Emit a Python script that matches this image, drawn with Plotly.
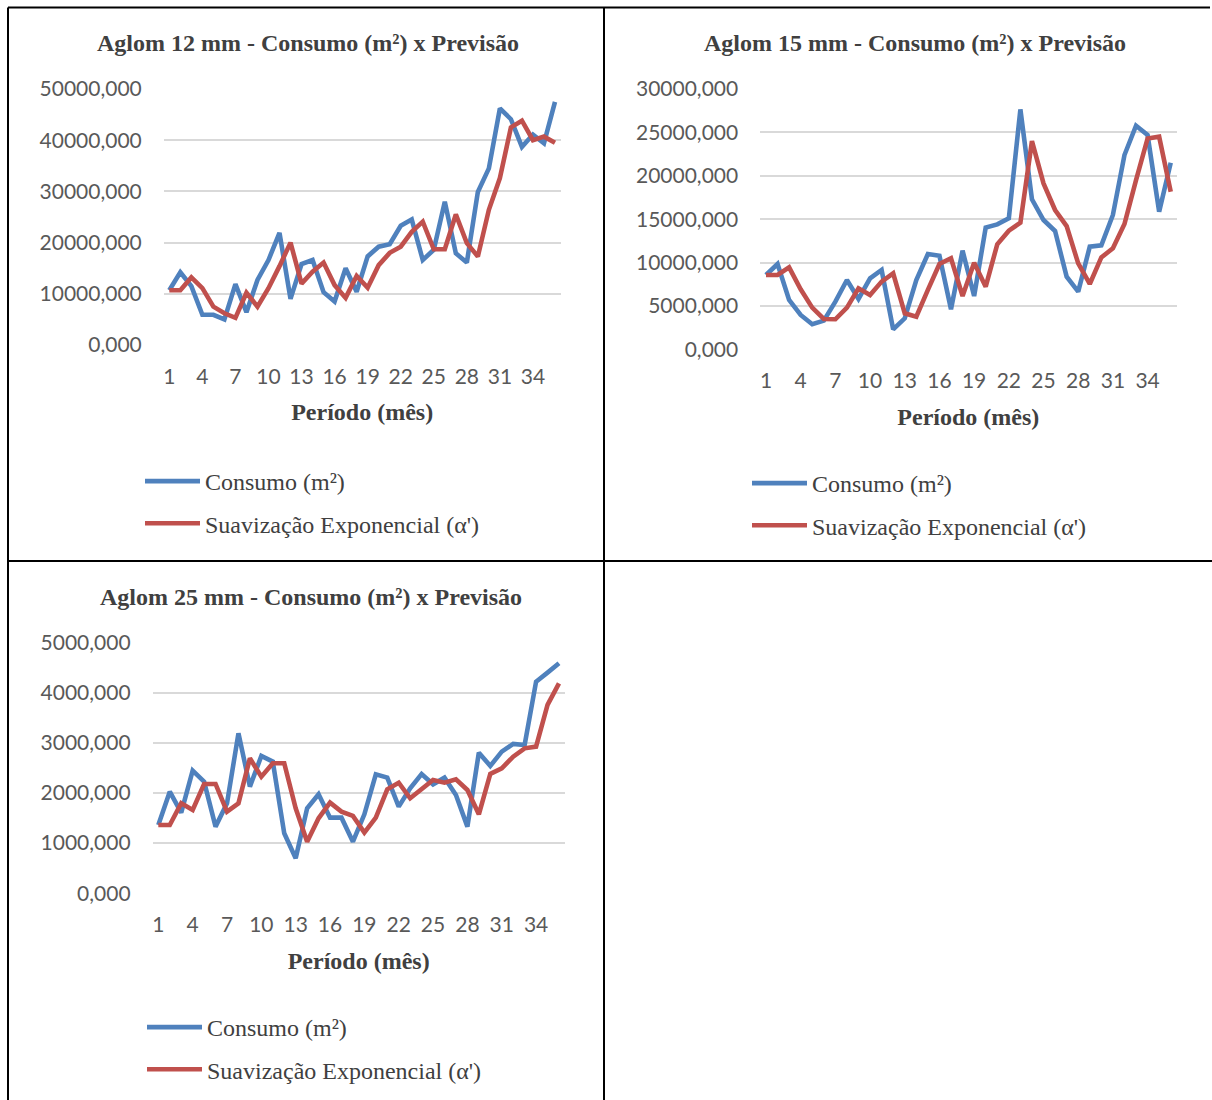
import plotly.graph_objects as go

# ---------------- data ----------------
periods = list(range(1, 37))

consumo_12 = [10700, 14200, 11500, 5900, 5900, 5000, 11900, 6400, 12700, 16600,
              21900, 9000, 15800, 16600, 10300, 8500, 15000, 10400, 17300, 19200,
              19700, 23300, 24500, 16600, 18600, 28000, 17900, 16100, 29900, 34500,
              46200, 44100, 38700, 41100, 39400, 47500]
previsao_12 = [10700, 10700, 13200, 11100, 7500, 6200, 5300, 10200, 7500, 11100,
               15400, 20000, 12000, 14300, 16100, 11700, 9200, 13500, 11200, 15600,
               18000, 19200, 22100, 24100, 18700, 18700, 25500, 19900, 17300, 26400,
               32600, 42500, 43800, 40000, 40700, 39500]

consumo_15 = [8560, 9830, 5680, 3960, 2880, 3300, 5490, 7990, 5800, 8180,
              9140, 2300, 3570, 7990, 10980, 10790, 4610, 11370, 6140, 14020,
              14400, 15090, 27650, 17280, 14900, 13630, 8370, 6640, 11830, 11980,
              15480, 22390, 25770, 24690, 15860, 21500]
previsao_15 = [8560, 8560, 9450, 6910, 4800, 3500, 3460, 4800, 7030, 6260,
               7800, 8760, 4150, 3760, 6840, 9830, 10490, 6140, 9980, 7220,
               12100, 13670, 14590, 24000, 19120, 16050, 14200, 9900, 7530, 10600,
               11640, 14440, 19500, 24300, 24500, 18160]

consumo_25 = [1361, 2025, 1607, 2444, 2224, 1328, 1793, 3187, 2125, 2736,
              2623, 1195, 697, 1693, 1972, 1507, 1507, 1029, 1574, 2370,
              2304, 1726, 2092, 2377, 2171, 2304, 1959, 1328, 2802, 2537,
              2822, 2975, 2955, 4216, 4396, 4582]
previsao_25 = [1361, 1361, 1793, 1660, 2178, 2178, 1627, 1793, 2689, 2324,
               2590, 2590, 1693, 1029, 1494, 1806, 1627, 1541, 1209, 1507,
               2072, 2204, 1892, 2072, 2258, 2204, 2271, 2058, 1574, 2377,
               2490, 2722, 2888, 2922, 3752, 4183]

chart_titles = ["Aglom 12 mm - Consumo (m²) x Previsão",
                "Aglom 15 mm - Consumo (m²) x Previsão",
                "Aglom 25 mm - Consumo (m²) x Previsão"]
series_names = ["Consumo (m²)", "Suavização Exponencial (α')"]
x_title = "Período (mês)"
y_max = [50000, 30000, 5000]
y_step = [10000, 5000, 1000]

# ---------------- layout helpers ----------------
W, H = 1212, 1100
BLUE = "#4F81BD"
RED = "#C0504D"


def px(x):
    return x / W


def py(y):
    return 1 - y / H


# plot areas in pixel coordinates: (left, right, top, bottom)
areas = [(163.8, 560.5, 89, 345), (760.2, 1176.5, 89, 349.3), (152.6, 564.7, 642.3, 893.3)]
title_pos = [(308, 43), (915, 43), (310.5, 597)]
legend_pos = [(140, 459), (747, 461), (142, 1005)]

data_sets = [(consumo_12, previsao_12), (consumo_15, previsao_15), (consumo_25, previsao_25)]

fig = go.Figure()
layout_axes = {}
annotations = []
for i, (cons, prev) in enumerate(data_sets):
    sfx = "" if i == 0 else str(i + 1)
    leg = "legend" if i == 0 else "legend" + str(i + 1)
    fig.add_trace(go.Scatter(x=periods, y=cons, mode="lines", name=series_names[0],
                             line=dict(color=BLUE, width=4.6), xaxis="x" + sfx, yaxis="y" + sfx,
                             legend=leg, legendgroup="c%d" % i))
    fig.add_trace(go.Scatter(x=periods, y=prev, mode="lines", name=series_names[1],
                             line=dict(color=RED, width=4.6), xaxis="x" + sfx, yaxis="y" + sfx,
                             legend=leg, legendgroup="p%d" % i))
    l, r, t, b = areas[i]
    layout_axes["xaxis" + sfx] = dict(
        domain=[px(l), px(r)], anchor="y" + sfx, range=[0.5, 36.5],
        tickmode="linear", tick0=1, dtick=3, showgrid=False, zeroline=False,
        showline=False, ticks="", ticklabelstandoff=17, automargin=False,
        tickfont=dict(family="Lato", size=21, color="#595959"),
        title=dict(text=x_title, standoff=16,
                   font=dict(family="Liberation Serif", size=24, color="#404040", weight="bold")),
        fixedrange=True)
    layout_axes["yaxis" + sfx] = dict(
        domain=[py(b), py(t)], anchor="x" + sfx, range=[0, y_max[i]],
        tickmode="linear", tick0=0, dtick=y_step[i], tickformat=".3f",
        showgrid=True, gridcolor="#D9D9D9", gridwidth=1.8, zeroline=False,
        showline=False, ticks="", ticklabelstandoff=21, automargin=False,
        tickfont=dict(family="Lato", size=21, color="#595959"), fixedrange=True)
    lx, ly = legend_pos[i]
    layout_axes[leg] = dict(
        x=px(lx), y=py(ly), xanchor="left", yanchor="top", orientation="v",
        traceorder="grouped", tracegroupgap=8, itemwidth=55, bgcolor="rgba(0,0,0,0)",
        font=dict(family="Liberation Serif", size=24, color="#404040"))
    tx, ty = title_pos[i]
    annotations.append(dict(text="<b>" + chart_titles[i] + "</b>", x=px(tx), y=py(ty),
                            xref="paper", yref="paper", showarrow=False,
                            xanchor="center", yanchor="middle",
                            font=dict(family="Liberation Serif", size=24, color="#404040")))

# table borders
border = dict(type="line", xref="paper", yref="paper", line=dict(color="black", width=2))
shapes = [
    dict(border, x0=px(8), x1=px(1210), y0=py(7.5), y1=py(7.5)),
    dict(border, x0=px(8), x1=px(8), y0=py(7.5), y1=py(1100)),
    dict(border, x0=px(604), x1=px(604), y0=py(7.5), y1=py(1100)),
    dict(border, x0=px(8), x1=px(1212), y0=py(561), y1=py(561)),
]

fig.update_layout(
    width=W, height=H, margin=dict(l=0, r=0, t=0, b=0, autoexpand=False),
    paper_bgcolor="white", plot_bgcolor="white",
    separators=",.", showlegend=True,
    annotations=annotations, shapes=shapes, **layout_axes)

fig.write_html("out.html", config={"displayModeBar": False})
